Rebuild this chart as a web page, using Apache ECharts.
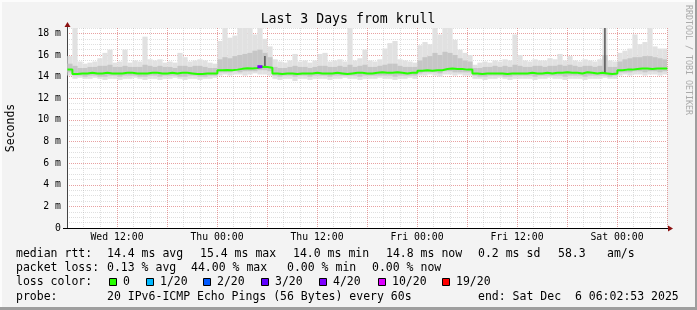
<!DOCTYPE html>
<html><head><meta charset="utf-8">
<script src="https://cdn.jsdelivr.net/npm/echarts@6/dist/echarts.min.js"></script>
<style>html,body{margin:0;padding:0;background:#f3f3f3}#c{width:697px;height:310px}</style>
</head><body><div id="c"></div>
<script>
// ---------------- DATA ----------------
const chartTitle = 'Last 3 Days from krull';
const yAxisTitle = 'Seconds';
const watermark = 'RRDTOOL / TOBI OETIKER';
const startHour = 6.048;      // Wed 06:02:53, hours since Wed 00:00
const endHour = 78.048;       // Sat 06:02:53
const stepHours = 0.6;        // one column = 36 min
const xTickLabels = {12: 'Wed 12:00', 24: 'Thu 00:00', 36: 'Thu 12:00', 48: 'Fri 00:00', 60: 'Fri 12:00', 72: 'Sat 00:00'};

// median rtt (ms) per column
const median = [
  14.65,14.25,14.3,14.3,14.35,14.3,14.3,14.35,14.3,14.3,14.3,14.35,14.35,14.3,14.3,14.3,14.35,14.35,14.3,14.3,
  14.35,14.3,14.35,14.35,14.3,14.25,14.25,14.3,14.3,14.3,
  14.6,14.62,14.6,14.65,14.72,14.78,14.75,14.8,14.92,14.9,14.82,
  14.3,14.25,14.3,14.3,14.25,14.3,14.3,14.3,14.35,14.3,14.3,14.3,14.35,14.3,14.25,14.3,14.35,14.35,14.3,
  14.3,14.35,14.4,14.35,14.35,14.4,14.35,14.3,14.35,14.35,
  14.55,14.6,14.55,14.6,14.6,14.7,14.75,14.7,14.7,14.65,14.65,
  14.3,14.25,14.3,14.3,14.3,14.3,14.25,14.3,14.3,14.3,14.3,14.35,14.3,14.3,14.35,14.3,14.35,14.35,14.4,
  14.35,14.35,14.3,14.4,14.35,14.3,14.35,14.3,14.25,14.3,
  14.6,14.65,14.65,14.7,14.75,14.75,14.7,14.75,14.75,14.75
];
// smoke: minimum ping per column
const smokeLo = [
  14.1,13.8,13.9,13.8,13.8,13.9,13.8,13.7,13.8,13.8,13.7,13.8,13.8,13.9,13.8,13.7,13.8,13.8,13.7,13.8,
  13.8,13.9,13.8,13.7,13.8,13.8,13.7,13.8,13.8,13.9,
  14.1,14.2,14.1,14.2,14.2,14.1,14.2,14.3,14.2,14.2,14.1,
  13.8,13.7,13.8,13.8,13.6,13.8,13.8,13.7,13.8,13.8,13.8,13.7,13.8,13.8,13.9,13.8,13.8,13.7,13.8,
  13.8,13.8,13.9,13.8,13.8,13.7,13.8,13.8,13.9,13.8,
  14.1,14.1,14.2,14.1,14.0,14.2,14.2,14.1,14.2,14.1,14.1,
  13.8,13.8,13.7,13.8,13.8,13.9,13.8,13.7,13.8,13.8,13.8,13.8,13.7,13.8,13.8,13.9,13.8,13.8,13.7,
  13.8,13.8,13.8,13.7,13.8,13.8,13.8,13.9,13.8,13.8,
  14.1,14.2,14.1,14.2,14.2,14.1,14.2,14.2,14.1,14.2
];
// smoke: lower edge of the dense band
const smokeQ1 = [
  14.4,14.1,14.1,14.0,14.1,14.1,14.0,14.0,14.1,14.1,14.0,14.1,14.1,14.1,14.0,14.0,14.1,14.1,14.0,14.1,
  14.1,14.1,14.0,14.0,14.1,14.1,14.0,14.0,14.1,14.1,
  14.4,14.4,14.4,14.5,14.4,14.5,14.5,14.5,14.6,14.6,14.5,
  14.1,14.0,14.1,14.1,14.0,14.1,14.1,14.0,14.1,14.1,14.1,14.0,14.1,14.1,14.1,14.1,14.1,14.0,14.1,
  14.1,14.1,14.1,14.1,14.1,14.0,14.1,14.1,14.1,14.1,
  14.3,14.4,14.4,14.4,14.3,14.5,14.5,14.4,14.4,14.4,14.4,
  14.1,14.0,14.0,14.1,14.1,14.1,14.0,14.0,14.1,14.1,14.1,14.1,14.0,14.1,14.1,14.1,14.1,14.1,14.0,
  14.1,14.1,14.1,14.0,14.1,14.1,14.1,14.1,14.0,14.1,
  14.4,14.4,14.4,14.5,14.5,14.4,14.5,14.5,14.4,14.5
];
// smoke: upper edge of the dense band
const smokeQ3 = [
  15.2,15.0,14.8,14.8,14.9,14.9,15.0,15.0,15.1,14.9,14.9,15.0,14.9,14.9,14.9,15.1,15.0,14.9,15.0,14.9,
  14.9,14.8,15.0,15.0,14.9,15.0,15.0,14.9,14.8,14.8,
  15.6,15.8,15.7,15.9,16.0,16.1,16.2,16.4,16.5,16.2,15.8,
  14.9,14.8,14.8,14.9,15.0,14.9,14.9,14.8,14.9,15.0,15.0,14.9,14.9,15.0,14.9,15.1,14.9,15.0,15.1,
  14.9,14.9,15.0,15.1,15.2,15.2,15.0,14.9,14.9,14.9,
  15.5,15.8,15.9,16.2,16.0,16.3,16.2,16.0,15.7,15.5,15.4,
  14.8,14.8,14.9,14.9,15.0,14.9,15.0,14.9,15.1,15.0,14.9,14.9,15.0,15.0,14.9,15.0,15.0,15.1,15.0,
  15.1,15.0,14.9,15.0,15.0,14.9,15.0,16.0,14.9,14.9,
  15.4,15.6,15.7,15.8,15.8,15.9,15.9,15.8,15.7,15.6
];
// smoke: maximum ping per column
const smokeHi = [
  15.9,18.5,15.4,15.2,15.3,15.4,15.7,16.2,16.5,15.3,15.4,16.5,15.3,15.5,15.4,17.7,15.6,15.5,15.6,15.3,
  15.4,15.3,16.2,15.8,15.4,15.5,15.6,15.5,15.3,15.2,
  17.3,18.5,17.6,17.8,18.5,18.5,18.5,17.9,18.5,17.5,16.8,
  15.6,15.4,15.3,15.5,16.1,15.4,15.5,15.3,15.5,16.1,16.2,15.4,15.5,15.6,15.4,18.5,15.5,15.7,16.5,
  15.5,15.4,15.6,16.6,17.1,17.3,15.6,15.5,15.4,15.3,
  16.9,17.2,17.0,18.5,17.9,18.5,18.5,17.4,16.5,16.2,16.0,
  15.1,15.3,15.4,15.3,15.5,15.4,15.6,15.5,17.9,16.0,15.5,15.4,15.6,15.5,15.5,15.7,15.6,16.1,15.5,
  15.9,15.5,15.4,15.6,15.5,15.4,15.6,18.5,15.5,15.4,
  16.2,16.4,16.6,17.9,17.0,17.2,18.5,16.8,16.6,16.6
];
// dense (dark) smoke streaks: [column, low ms, high ms]
const darkStreaks = [[39, 14.9, 15.9], [107, 14.3, 18.5]];
// [column, packet loss %] for columns with loss
const lossEvents = [[38, 44]];

const lossColorLabels = ['0', '1/20', '2/20', '3/20', '4/20', '10/20', '19/20'];
const lossColorValues = ['#26ff00', '#00b8ff', '#0059ff', '#5e00ff', '#7e00ff', '#dd00ff', '#ff0000'];
const lossColorPings = [0, 1, 2, 3, 4, 10, 19];

const rowMedian = ['median rtt:', '14.4 ms avg', '15.4 ms max', '14.0 ms min', '14.8 ms now', '0.2 ms sd', '58.3', 'am/s'];
const rowLoss = ['packet loss:', '0.13 % avg', '44.00 % max', '0.00 % min', '0.00 % now'];
const rowLossColorTitle = 'loss color:';
const rowProbe = ['probe:', '20 IPv6-ICMP Echo Pings (56 Bytes) every 60s', 'end: Sat Dec  6 06:02:53 2025'];

// ---------------- LAYOUT / STYLE ----------------
const FONT = 'DejaVu Sans Mono';
const G = {left: 67, top: 28, width: 600, height: 200};
const yMin = 0, yMax = 18.5;
const majorGrid = 'rgba(255,0,0,0.28)';
const minorGrid = 'rgba(150,150,150,0.30)';

function lossColor(pct) {
  const pings = pct / 100 * 20;
  let c = lossColorValues[0];
  for (let k = 0; k < lossColorPings.length; k++) if (pings >= lossColorPings[k] && lossColorPings[k] > 0) c = lossColorValues[k];
  return c;
}

function bandSeries(lowArr, highArr, fill, z) {
  return {
    type: 'custom', xAxisIndex: 1, yAxisIndex: 1, clip: true, z: z, silent: true,
    data: highArr.map((h, i) => [i, lowArr[i], h]),
    renderItem: function (params, api) {
      const i = api.value(0);
      const t0 = startHour + i * stepHours;
      const p0 = api.coord([t0, api.value(1)]);
      const p1 = api.coord([t0 + stepHours, api.value(2)]);
      return {type: 'rect', shape: {x: p0[0], y: p1[1], width: p1[0] - p0[0] + 0.2, height: p0[1] - p1[1]},
        style: {fill: fill}};
    }
  };
}

const medianLine = median.map((m, i) => [startHour + i * stepHours, m]);
medianLine.push([endHour, median[median.length - 1]]);

const chart = echarts.init(document.getElementById('c'), null, {renderer: 'canvas'});

const graphics = [];
// frame shading
graphics.push({type: 'rect', shape: {x: 0, y: 0, width: 697, height: 2}, style: {fill: '#fcfcfc'}, silent: true});
graphics.push({type: 'rect', shape: {x: 0, y: 0, width: 2, height: 310}, style: {fill: '#fcfcfc'}, silent: true});
graphics.push({type: 'rect', shape: {x: 695, y: 0, width: 2, height: 310}, style: {fill: '#9e9e9e'}, silent: true});
graphics.push({type: 'rect', shape: {x: 0, y: 307, width: 697, height: 3}, style: {fill: '#9e9e9e'}, silent: true});
// title
graphics.push({type: 'text', x: 348, y: 20, style: {text: chartTitle, font: '13.2px "' + FONT + '"', fill: '#000', align: 'center', verticalAlign: 'middle'}});
// y title
graphics.push({type: 'text', x: 11, y: 128, rotation: Math.PI / 2, style: {text: yAxisTitle, font: '11.5px "' + FONT + '"', fill: '#000', align: 'center', verticalAlign: 'middle'}});
// watermark
graphics.push({type: 'text', x: 688, y: 60, rotation: -Math.PI / 2, style: {text: watermark, font: '8.3px "' + FONT + '"', fill: '#aaaaaa', align: 'center', verticalAlign: 'middle'}});
// axis extensions + arrows
graphics.push({type: 'line', shape: {x1: G.left - 4, y1: G.top + G.height + 0.5, x2: G.left, y2: G.top + G.height + 0.5}, style: {stroke: '#000', lineWidth: 1}});
graphics.push({type: 'line', shape: {x1: G.left + G.width, y1: G.top + G.height + 0.5, x2: G.left + G.width + 2, y2: G.top + G.height + 0.5}, style: {stroke: '#000', lineWidth: 1}});
graphics.push({type: 'line', shape: {x1: G.left + 0.5, y1: G.top - 2, x2: G.left + 0.5, y2: G.top}, style: {stroke: '#444', lineWidth: 1}});
graphics.push({type: 'polygon', shape: {points: [[G.left - 2.5, G.top - 1], [G.left + 3.5, G.top - 1], [G.left + 0.5, G.top - 6]]}, style: {fill: '#8b1010'}});
graphics.push({type: 'polygon', shape: {points: [[G.left + G.width + 1, G.top + G.height - 2.5], [G.left + G.width + 1, G.top + G.height + 3.5], [G.left + G.width + 6, G.top + G.height + 0.5]]}, style: {fill: '#8b1010'}});

// legend rows
const legendFont = '11.5px "' + FONT + '"';
function txt(x, y, s) { graphics.push({type: 'text', x: x, y: y, style: {text: s, font: legendFont, fill: '#000', verticalAlign: 'middle'}}); }
const row1X = [16, 107, 200, 293, 386, 478, 558, 607];
rowMedian.forEach((s, k) => txt(row1X[k], 254, s));
const row2X = [16, 107, 191, 287, 372];
rowLoss.forEach((s, k) => txt(row2X[k], 268.3, s));
txt(16, 282.3, rowLossColorTitle);
const boxX = [109, 146, 203, 261, 319, 378, 442];
lossColorLabels.forEach((s, k) => {
  graphics.push({type: 'rect', shape: {x: boxX[k] + 0.5, y: 278.5, width: 7, height: 7}, style: {fill: lossColorValues[k], stroke: '#000', lineWidth: 1}});
  txt(boxX[k] + 14, 282.3, s);
});
const row4X = [16, 107, 478];
rowProbe.forEach((s, k) => txt(row4X[k], 296.7, s));

chart.setOption({
  animation: false,
  backgroundColor: '#f3f3f3',
  grid: {left: G.left, top: G.top, width: G.width, height: G.height, show: true, backgroundColor: '#ffffff', borderWidth: 0},
  xAxis: [
    {type: 'value', position: 'bottom', min: 6, max: 78, interval: 2, axisLine: {show: false}, axisTick: {show: false}, axisLabel: {show: false},
      splitLine: {show: true, lineStyle: {color: minorGrid, type: [1, 1], width: 1}}},
    {type: 'value', position: 'bottom', min: 6, max: 78, interval: 6,
      axisLine: {show: true, onZero: false, lineStyle: {color: '#000', width: 1}},
      axisTick: {show: false},
      axisLabel: {show: true, margin: 4, fontFamily: FONT, fontSize: 9.8, color: '#000',
        showMinLabel: true, showMaxLabel: true,
        formatter: v => xTickLabels[v] || ''},
      splitLine: {show: true, lineStyle: {color: majorGrid, type: [1, 1], width: 1}}}
  ],
  yAxis: [
    {type: 'value', position: 'left', min: yMin, max: yMax, interval: 0.5, axisLine: {show: false}, axisTick: {show: false}, axisLabel: {show: false},
      splitLine: {show: true, lineStyle: {color: minorGrid, type: [1, 1], width: 1}}},
    {type: 'value', position: 'left', min: yMin, max: yMax, interval: 2,
      axisLine: {show: true, onZero: false, lineStyle: {color: '#444', width: 1}},
      axisTick: {show: false},
      axisLabel: {show: true, margin: 6, fontFamily: FONT, fontSize: 9.8, color: '#000', showMaxLabel: false,
        formatter: v => v === 0 ? '0' : v + ' m'},
      splitLine: {show: true, showMaxLine: false, showMinLine: false, lineStyle: {color: majorGrid, type: [1, 1], width: 1}}}
  ],
  series: [
    bandSeries(smokeLo, smokeHi, '#e1e1e1', 2),
    bandSeries(smokeQ1, smokeQ3, '#c6c6c6', 3),
    {type: 'custom', xAxisIndex: 1, yAxisIndex: 1, clip: true, z: 4, silent: true,
      data: darkStreaks,
      renderItem: function (params, api) {
        const i = api.value(0);
        const t = startHour + (i + 0.5) * stepHours;
        const a = api.coord([t, api.value(1)]);
        const b = api.coord([t, api.value(2)]);
        return {type: 'line', shape: {x1: a[0], y1: a[1], x2: b[0], y2: b[1]}, style: {stroke: '#555', lineWidth: 1.5}};
      }},
    {type: 'line', xAxisIndex: 1, yAxisIndex: 1, step: 'end', data: medianLine, symbol: 'none', z: 5, silent: true,
      lineStyle: {color: lossColorValues[0], width: 2}},
    {type: 'custom', xAxisIndex: 1, yAxisIndex: 1, z: 6, silent: true, clip: true,
      data: lossEvents.map(e => [e[0], median[e[0]], e[1]]),
      renderItem: function (params, api) {
        const i = api.value(0);
        const t0 = startHour + i * stepHours;
        const a = api.coord([t0, api.value(1)]);
        const b = api.coord([t0 + stepHours, api.value(1)]);
        return {type: 'line', shape: {x1: a[0], y1: a[1], x2: b[0], y2: b[1]}, style: {stroke: lossColor(api.value(2)), lineWidth: 3}};
      }}
  ],
  graphic: graphics
});
</script>
</body></html>
